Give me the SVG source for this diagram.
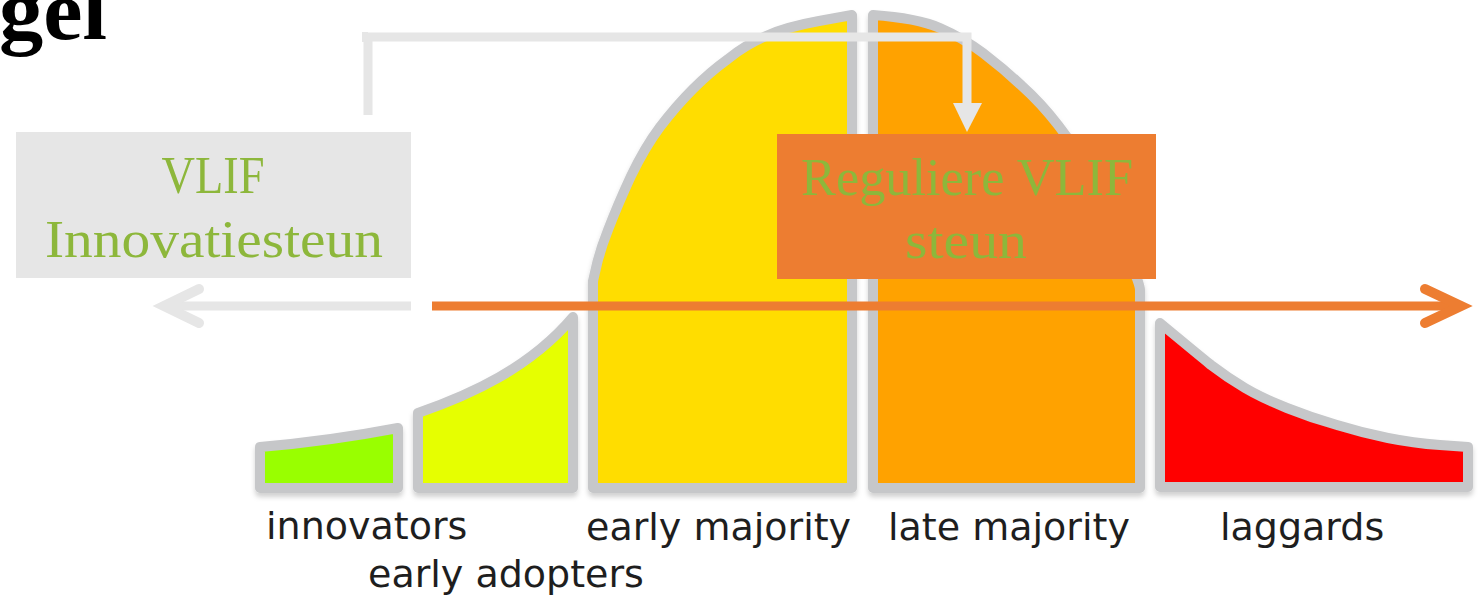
<svg xmlns="http://www.w3.org/2000/svg" width="1484" height="597" viewBox="0 0 1484 597">
  <defs>
    <style>
      .seg { stroke: #c6c7c9; stroke-width: 10; stroke-linejoin: round; }
      .lbl { font-family: "DejaVu Sans", Verdana, sans-serif; font-size: 38px; fill: #1e1e1e; }
      .box-text { font-family: "Liberation Serif", "Times New Roman", serif; font-size: 53px; fill: #8db73b; text-anchor: middle; }
      .gray-line { fill: none; stroke: #e6e6e6; stroke-width: 9; }
      .orange-line { fill: none; stroke: #ed7d31; stroke-width: 9; }
    </style>
    <filter id="shadow" x="-5%" y="-5%" width="110%" height="115%">
      <feDropShadow dx="0" dy="4" stdDeviation="2.5" flood-color="#000" flood-opacity="0.18"/>
    </filter>
  </defs>

  <rect width="1484" height="597" fill="#ffffff"/>

  <g id="title">
    <text x="-1" y="39" font-family="'Liberation Serif', 'Times New Roman', serif" font-weight="bold" font-size="84" fill="#000" textLength="108" lengthAdjust="spacingAndGlyphs">gel</text>
  </g>

  <g id="curve" filter="url(#shadow)">
    <g id="innovators-seg">
      <path class="seg" fill="#99ff00" d="M260,488 L260,447 Q330,441 398,428 L398,488 Z"/>
    </g>
    <g id="early-adopters-seg">
      <path class="seg" fill="#e6ff00" d="M418,488 L418,413 C470,395 530,368 573,317 L573,488 Z"/>
    </g>
    <g id="early-majority-seg">
      <path class="seg" fill="#ffdd00" d="M593,488 L593,281 Q598,255 608,230 Q618,204 631,176 Q645,147 660,127 Q676,106 693,89 Q710,72 728,59 Q745,45 766,36 Q786,27 819,21 L852,15 L852,488 Z"/>
    </g>
    <g id="late-majority-seg">
      <path class="seg" fill="#ffa200" d="M873,488 L873,15 Q917,18 940,28 Q963,38 983,53 Q1004,69 1022,86 Q1041,103 1058,125 Q1075,147 1090,172 Q1105,198 1115,223 Q1125,248 1132,266 Q1140,285 1140,290 L1140,488 Z"/>
    </g>
    <g id="laggards-seg">
      <path class="seg" fill="#ff0000" d="M1160,487 L1160,323 Q1195,352 1211,365 Q1228,378 1245,388 Q1262,398 1287,408 Q1312,418 1337,425 Q1363,433 1388,438 Q1413,443 1440,445 L1468,447 L1468,487 Z"/>
    </g>
  </g>

  <g id="labels">
    <text class="lbl" x="266" y="539">innovators</text>
    <text class="lbl" x="368" y="587">early adopters</text>
    <text class="lbl" x="586" y="540">early majority</text>
    <text class="lbl" x="888" y="540">late majority</text>
    <text class="lbl" x="1220" y="540">laggards</text>
  </g>

  <g id="vlif-innovatiesteun">
    <rect x="16" y="132" width="395" height="146" fill="#e6e6e6"/>
    <text class="box-text" x="213" y="193" textLength="103" lengthAdjust="spacingAndGlyphs">VLIF</text>
    <text class="box-text" x="214" y="257" textLength="338" lengthAdjust="spacingAndGlyphs">Innovatiesteun</text>
  </g>

  <g id="reguliere-vlif-steun">
    <rect x="777" y="134" width="379" height="145" fill="#ed7d31"/>
    <text class="box-text" x="967" y="195" textLength="332" lengthAdjust="spacingAndGlyphs">Reguliere VLIF</text>
    <text class="box-text" x="966" y="258" textLength="122" lengthAdjust="spacingAndGlyphs">steun</text>
  </g>

  <g id="connectors">
    <path class="gray-line" d="M368,115 L368,37 L967,37 L967,106"/>
    <rect x="362" y="32" width="6" height="10" fill="#e6e6e6"/>
    <polygon points="953,103 982,103 967,132" fill="#e6e6e6"/>
    <path class="gray-line" d="M411,306 L168,306"/>
    <polyline points="199,289 164,306 199,323" fill="none" stroke="#e6e6e6" stroke-width="10" stroke-linecap="round" stroke-linejoin="miter"/>
    <path class="orange-line" d="M432,306 L1458,306"/>
    <polyline points="1425,289 1461,306 1425,323" fill="none" stroke="#ed7d31" stroke-width="10" stroke-linecap="round" stroke-linejoin="miter"/>
  </g>
</svg>
